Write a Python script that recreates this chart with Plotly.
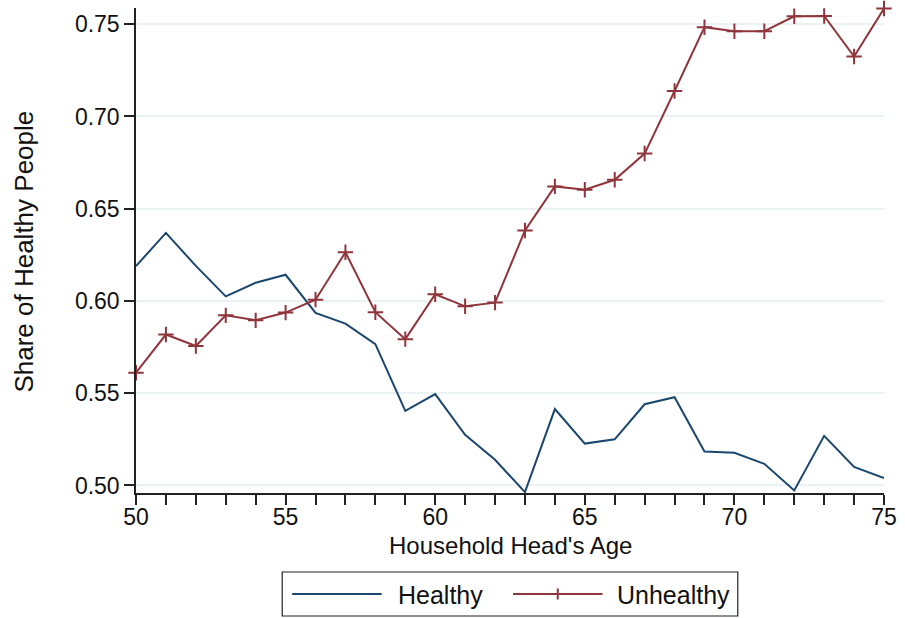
import plotly.graph_objects as go

ages = list(range(50, 76))
healthy = [0.6189, 0.6369, 0.6190, 0.6025, 0.6099, 0.6142, 0.5935, 0.5877, 0.5766, 0.5404,
           0.5495, 0.5274, 0.5139, 0.4964, 0.5414, 0.5227, 0.5250, 0.5440, 0.5478, 0.5184,
           0.5177, 0.5117, 0.4973, 0.5269, 0.5100, 0.5040]
unhealthy = [0.5611, 0.5818, 0.5756, 0.5922, 0.5895, 0.5937, 0.6007, 0.6264, 0.5939, 0.5793,
             0.6036, 0.5971, 0.5991, 0.6382, 0.6621, 0.6603, 0.6657, 0.6799, 0.7138, 0.7484,
             0.7462, 0.7462, 0.7543, 0.7545, 0.7325, 0.7585]
y_ticks = [0.50, 0.55, 0.60, 0.65, 0.70, 0.75]
x_label_ticks = [50, 55, 60, 65, 70, 75]

NAVY = "#1a476f"
MAROON = "#90353b"
FONT = "Liberation Sans, Arial, sans-serif"

W, H = 905, 618
L, R, T, B = 136, 17, 8, 125
PW, PH = W - L - R, H - T - B


def px(x):
    return (x - L) / PW


def py(y):
    return 1 - (y - T) / PH


fig = go.Figure()
fig.add_trace(go.Scatter(x=ages, y=healthy, mode="lines", name="Healthy",
                         line=dict(color=NAVY, width=2), cliponaxis=False, showlegend=False))
fig.add_trace(go.Scatter(x=ages, y=unhealthy, mode="lines+markers", name="Unhealthy",
                         line=dict(color=MAROON, width=2),
                         marker=dict(symbol="cross-thin", size=11, line=dict(color=MAROON, width=2)),
                         cliponaxis=False, showlegend=False))

shapes = [
    dict(type="rect", xref="paper", yref="paper", x0=px(283), x1=px(741), y0=py(572), y1=py(616),
         line=dict(color="#222222", width=1.2), fillcolor="white", layer="above"),
    dict(type="line", xref="paper", yref="paper", x0=px(293), x1=px(383), y0=py(594), y1=py(594),
         line=dict(color=NAVY, width=2)),
    dict(type="line", xref="paper", yref="paper", x0=px(515), x1=px(605), y0=py(594), y1=py(594),
         line=dict(color=MAROON, width=2)),
    dict(type="line", xref="paper", yref="paper", x0=px(560), x1=px(560), y0=py(588.5), y1=py(599.5),
         line=dict(color=MAROON, width=2)),
]

annotations = [
    dict(text="Household Head's Age", xref="paper", yref="paper", x=px(513), y=py(545),
         xanchor="center", yanchor="middle", showarrow=False, font=dict(family=FONT, size=24, color="#111")),
    dict(text="Share of Healthy People", xref="paper", yref="paper", x=px(23), y=py(252),
         xanchor="center", yanchor="middle", textangle=-90, showarrow=False,
         font=dict(family=FONT, size=26, color="#111")),
    dict(text="Healthy", xref="paper", yref="paper", x=px(397), y=py(595),
         xanchor="left", yanchor="middle", showarrow=False, font=dict(family=FONT, size=25, color="#111")),
    dict(text="Unhealthy", xref="paper", yref="paper", x=px(618), y=py(595),
         xanchor="left", yanchor="middle", showarrow=False, font=dict(family=FONT, size=25, color="#111")),
]

fig.update_layout(
    width=W, height=H,
    margin=dict(l=L, r=R, t=T, b=B, pad=0),
    paper_bgcolor="white", plot_bgcolor="white",
    font=dict(family=FONT, size=22, color="#111"),
    shapes=shapes, annotations=annotations,
    showlegend=False,
)
fig.update_xaxes(range=[50, 75], tickvals=ages,
                 ticktext=[str(a) if a in x_label_ticks else "" for a in ages],
                 ticks="outside", ticklen=10, tickwidth=1.5, tickcolor="#222",
                 showline=True, linecolor="#222", linewidth=1.5, showgrid=False, zeroline=False,
                 tickfont=dict(size=23), ticklabelstandoff=-7)
fig.update_yaxes(range=[0.4959, 0.7588], tickvals=y_ticks, tickformat=".2f",
                 ticks="outside", ticklen=10, tickwidth=1.5, tickcolor="#222",
                 showline=True, linecolor="#222", linewidth=1.5,
                 showgrid=True, gridcolor="#eaf2f3", gridwidth=1.5, zeroline=False,
                 tickfont=dict(size=23))

fig.write_html("out.html")
